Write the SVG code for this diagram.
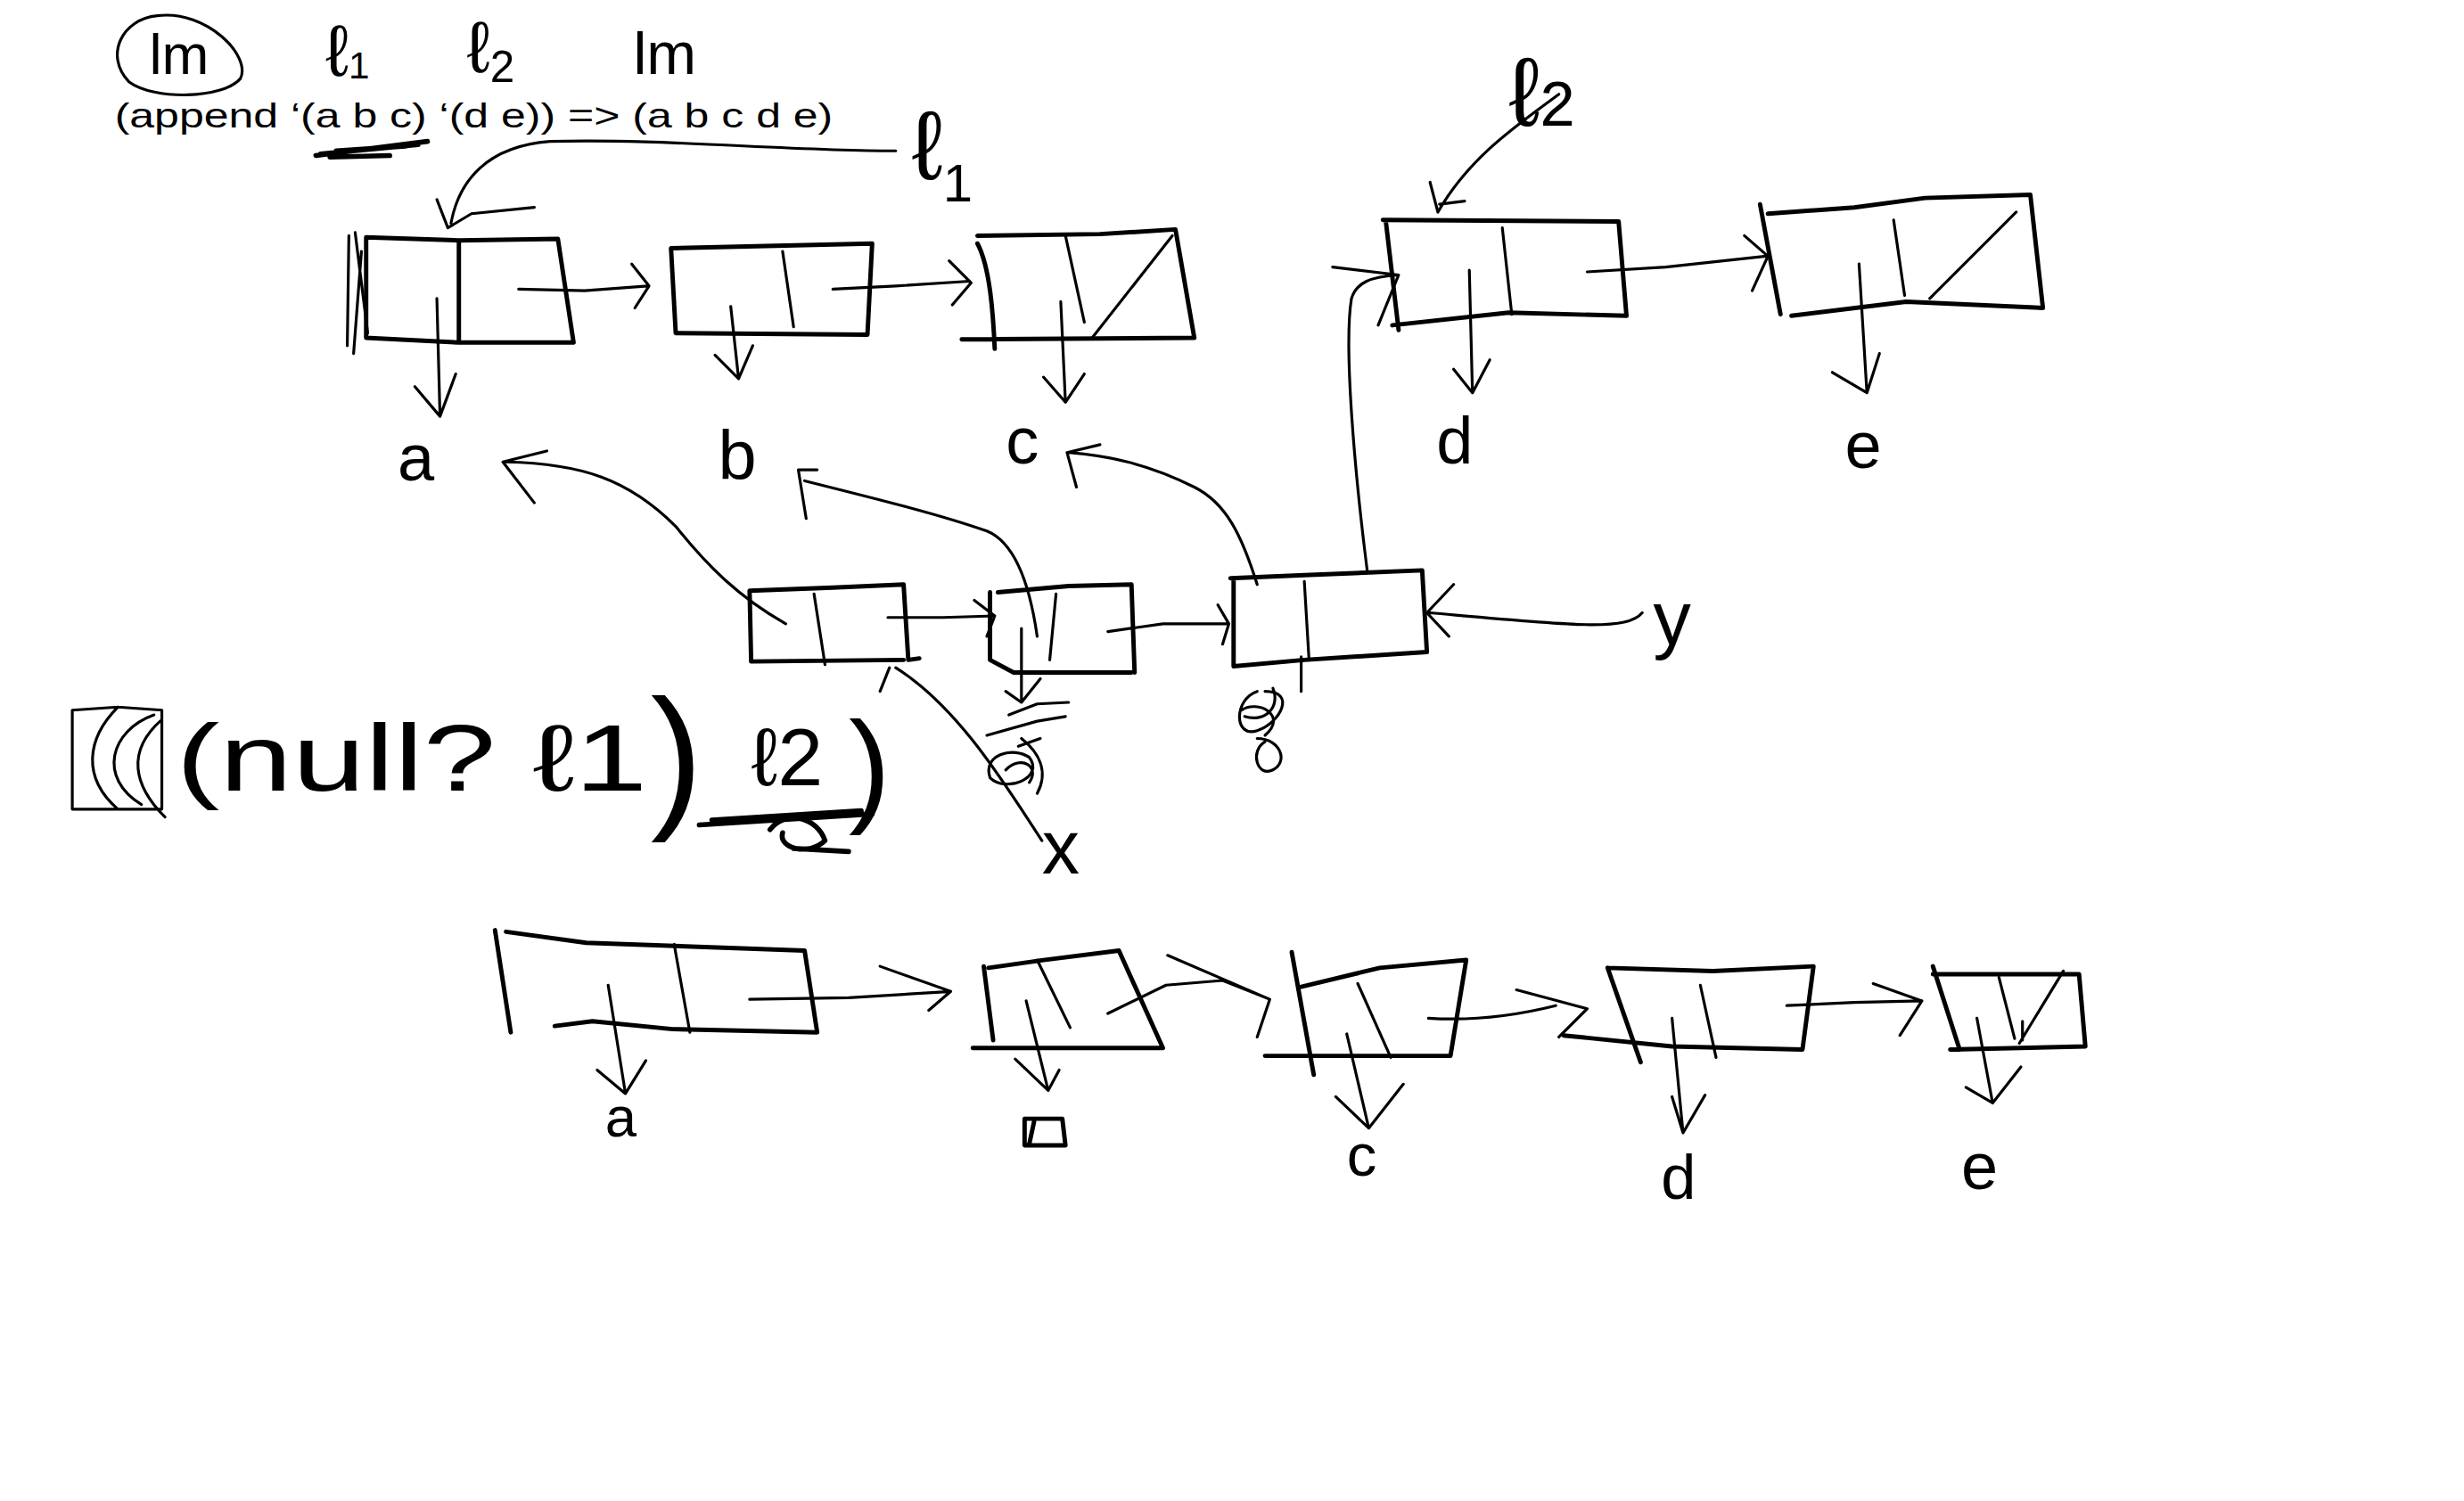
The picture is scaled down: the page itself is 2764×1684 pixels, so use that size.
<svg xmlns="http://www.w3.org/2000/svg" width="2764" height="1684" viewBox="0 0 2764 1684">
<style>
.s{fill:none;stroke:#000;stroke-width:1.8;stroke-linecap:round;stroke-linejoin:round}
.b{fill:none;stroke:#000;stroke-width:2.8;stroke-linecap:round;stroke-linejoin:round}
.k{fill:none;stroke:#000;stroke-width:3.2;stroke-linecap:round;stroke-linejoin:round}
.t{font-family:"Liberation Sans","DejaVu Sans",sans-serif;fill:#000}
.typed{font-family:"Liberation Sans",Arial,sans-serif;font-size:22px;fill:#000}
</style>
<rect width="2764" height="1684" fill="#fff"/>
<g transform="scale(1.7628)">
<g id="header">
  <path class="s" d="M100,10 C78,12 66,35 82,52 C98,64 142,63 153,50 C160,36 132,6 100,10"/>
  <text class="t" x="95" y="47" font-size="36">lm</text>
  <text class="t" x="207" y="48" font-size="46">ℓ<tspan font-size="24" dy="2">1</tspan></text>
  <text class="t" x="297" y="46" font-size="46">ℓ<tspan font-size="28" dy="6">2</tspan></text>
  <text class="t" x="403" y="47" font-size="38">lm</text>
  <text class="typed" x="73" y="81" textLength="457" lengthAdjust="spacingAndGlyphs">(append ‘(a b c) ‘(d e)) =&gt; (a b c d e)</text>
  <path class="k" d="M201,99 L272,90 M204,98 L266,92 M210,100 L248,99 M214,96 L258,93"/>
</g>
<g id="label-l1"><text class="t" x="580" y="114" font-size="62">ℓ<tspan font-size="34" dy="14">1</tspan></text></g>
<g id="label-l2"><text class="t" x="960" y="80" font-size="62">ℓ<tspan font-size="40" dy="0">2</tspan></text></g>
<g id="label-y"><text class="t" x="1052" y="410" font-size="48">y</text></g>
<g id="label-x"><text class="t" x="663" y="556" font-size="48">x</text></g>

<g id="cell-a1">
  <path class="b" d="M233,151 L292,153 L355,152 L365,218 L292,218 L233,215 Z M292,153 L292,218"/>
  <path class="s" d="M222,150 L221,220 M226,148 L234,212 M230,160 L225,225"/>
  <text class="t" x="253" y="306" font-size="42">a</text>
</g>
<g id="cell-b1">
  <path class="b" d="M427,158 L555,155 L552,213 L430,212 Z"/>
  <path class="s" d="M498,160 L505,208"/>
  <text class="t" x="457" y="305" font-size="44">b</text>
</g>
<g id="cell-c1">
  <path class="b" d="M622,150 L700,149 L748,146 L760,215 L612,216 M622,155 C630,170 632,200 633,222"/>
  <path class="s" d="M678,150 L690,205 M695,215 L746,150"/>
  <text class="t" x="640" y="295" font-size="42">c</text>
</g>
<g id="cell-d2">
  <path class="b" d="M880,140 L1030,141 L1035,201 L960,199 L886,207 M882,142 L890,210"/>
  <path class="s" d="M956,145 L962,200"/>
  <text class="t" x="914" y="295" font-size="42">d</text>
</g>
<g id="cell-e2">
  <path class="b" d="M1125,136 L1180,132 L1225,126 L1292,124 L1300,196 L1213,192 L1140,201 M1120,130 L1133,200"/>
  <path class="s" d="M1205,140 L1212,188 M1228,190 L1283,135"/>
  <text class="t" x="1174" y="298" font-size="42">e</text>
</g>

<g id="cell-m1">
  <path class="b" d="M477,376 L530,374 L575,372 L578,420 L585,419 M477,376 L478,421 L575,420"/>
  <path class="s" d="M518,378 L525,423"/>
</g>
<g id="cell-m2">
  <path class="b" d="M635,377 L680,373 L720,372 L722,428 M630,377 L630,420 L645,428 L720,428"/>
  <path class="s" d="M672,378 L668,420"/>
  <path class="s" d="M642,455 L660,448 L680,447 M628,468 L660,459 L678,456 M648,475 L662,470 M630,495 C625,480 645,475 655,482 C665,495 640,505 630,495 M640,490 C650,480 662,488 655,498 M650,470 C660,478 668,490 660,505"/>
</g>
<g id="cell-m3">
  <path class="b" d="M783,368 L830,366 L905,363 L908,415 L830,420 L785,424 L785,368"/>
  <path class="s" d="M830,370 L833,420"/>
  <path class="s" d="M800,440 C785,445 785,470 800,465 C815,460 825,440 805,440 M790,452 C800,445 820,455 805,468 M800,470 C815,470 820,485 810,490 C800,495 795,478 805,472 M792,456 C805,460 815,450 810,438"/>
</g>
<g id="cond">
  <path class="s" d="M46,452 L75,450 L103,452 L103,515 L46,515 Z M75,450 C55,470 52,495 75,515 M98,455 C70,465 62,495 90,512 M103,458 C80,478 85,500 105,520"/>
  <text class="t" x="112" y="503" font-size="60" textLength="300" lengthAdjust="spacingAndGlyphs">(null? ℓ1</text>
  <text class="t" x="414" y="515" font-size="100" font-weight="300">)</text>
  <text class="t" x="478" y="500" font-size="52">ℓ2</text>
  <text class="t" x="540" y="515" font-size="80" font-weight="300">)</text>
  <path class="k" d="M445,525 L555,518 M453,522 L548,516 M490,528 C500,515 520,520 525,535 C515,545 495,540 498,530 M505,540 L540,542"/>
</g>

<g id="cell-b1-bottom">
  <path class="b" d="M322,593 L373,600 L512,605 L520,657 L428,655 L377,650 L353,653 M315,592 L325,657"/>
  <path class="s" d="M429,601 L439,657"/>
  <text class="t" x="385" y="723" font-size="36">a</text>
</g>
<g id="cell-b2-bottom">
  <path class="b" d="M629,616 L664,611 L712,605 L740,667 L619,667 M626,615 L632,662"/>
  <path class="s" d="M660,611 L681,654"/>
  <path class="b" d="M652,712 L676,712 L678,729 L652,729 Z M658,714 L655,728"/>
</g>
<g id="cell-b3-bottom">
  <path class="b" d="M828,628 L878,616 L933,611 L923,672 L805,672 M822,606 L836,684"/>
  <path class="s" d="M864,626 L885,673"/>
  <text class="t" x="857" y="748" font-size="38">c</text>
</g>
<g id="cell-b4-bottom">
  <path class="b" d="M1023,616 L1090,618 L1154,615 L1147,668 L1064,666 L995,659 M1023,616 L1044,676"/>
  <path class="s" d="M1082,627 L1092,673"/>
  <text class="t" x="1057" y="763" font-size="40">d</text>
</g>
<g id="cell-b5-bottom">
  <path class="b" d="M1230,620 L1323,620 L1327,666 L1241,668 M1230,615 L1247,668"/>
  <path class="s" d="M1272,622 L1282,661 M1285,664 L1313,618 M1287,662 L1287,650"/>
  <text class="t" x="1248" y="757" font-size="42">e</text>
</g>

<g id="connectors">
  <path class="s" d="M570,96 C500,96 420,88 350,90 C310,93 292,115 287,142 M278,127 L285,145 L300,136 M340,132 L300,136"/>
  <path class="s" d="M278,190 L280,265 M264,246 L280,265 L290,238"/>
  <path class="s" d="M330,184 L372,185 L412,182 M402,168 L413,182 L404,196"/>
  <path class="s" d="M465,195 L470,241 M455,226 L470,241 L479,220"/>
  <path class="s" d="M530,184 L570,182 L617,179 M604,166 L618,180 L606,194"/>
  <path class="s" d="M675,192 L678,256 M664,240 L678,256 L690,238"/>
  <path class="s" d="M992,60 C965,80 935,100 915,135 M910,116 L915,135 M916,130 L932,128"/>
  <path class="s" d="M935,172 L937,250 M925,235 L937,250 L948,229"/>
  <path class="s" d="M1010,173 L1060,170 L1124,163 M1110,150 L1125,163 L1115,185"/>
  <path class="s" d="M1183,168 L1188,250 M1166,237 L1188,250 L1196,225"/>
  <path class="s" d="M500,397 C470,380 450,360 430,335 C400,305 370,295 322,294 M348,287 L320,294 L340,320"/>
  <path class="s" d="M660,405 C655,370 645,345 628,338 C600,328 560,318 512,306 M520,299 L508,299 L513,330"/>
  <path class="s" d="M800,372 C790,340 780,320 760,310 C730,295 705,290 680,288 M700,283 L679,288 L685,310"/>
  <path class="s" d="M870,363 C862,300 855,220 860,190 C863,180 872,176 890,175 M848,170 L890,175 L877,207"/>
  <path class="s" d="M565,393 L600,393 L633,392 M620,382 L633,392 L628,405"/>
  <path class="s" d="M705,402 L740,397 L782,397 M775,385 L782,397 L778,410"/>
  <path class="s" d="M650,400 L650,447 M640,440 L650,447 L662,432"/>
  <path class="s" d="M828,418 L828,440"/>
  <path class="s" d="M1045,390 C1035,402 1000,398 910,390 M925,372 L908,390 L922,405"/>
  <path class="s" d="M663,535 C640,500 610,450 570,425 M566,425 L560,440"/>
  <path class="s" d="M477,636 L540,635 L605,631 M560,615 L605,631 L591,643"/>
  <path class="s" d="M387,627 L398,696 M380,681 L398,696 L411,675"/>
  <path class="s" d="M653,637 L667,694 M646,674 L667,694 L674,681"/>
  <path class="s" d="M705,645 L742,627 L778,624 L808,636 M743,608 L808,636 L800,660"/>
  <path class="s" d="M857,658 L871,718 M850,698 L871,718 L893,690"/>
  <path class="s" d="M909,648 C940,650 970,645 990,640 M965,630 L1010,642 L992,660"/>
  <path class="s" d="M1064,648 L1071,721 M1064,698 L1071,721 L1085,697"/>
  <path class="s" d="M1137,640 L1180,638 L1223,637 M1192,626 L1223,637 L1209,659"/>
  <path class="s" d="M1258,648 L1268,702 M1251,692 L1268,702 L1286,679"/>
</g>
</g>
</svg>
